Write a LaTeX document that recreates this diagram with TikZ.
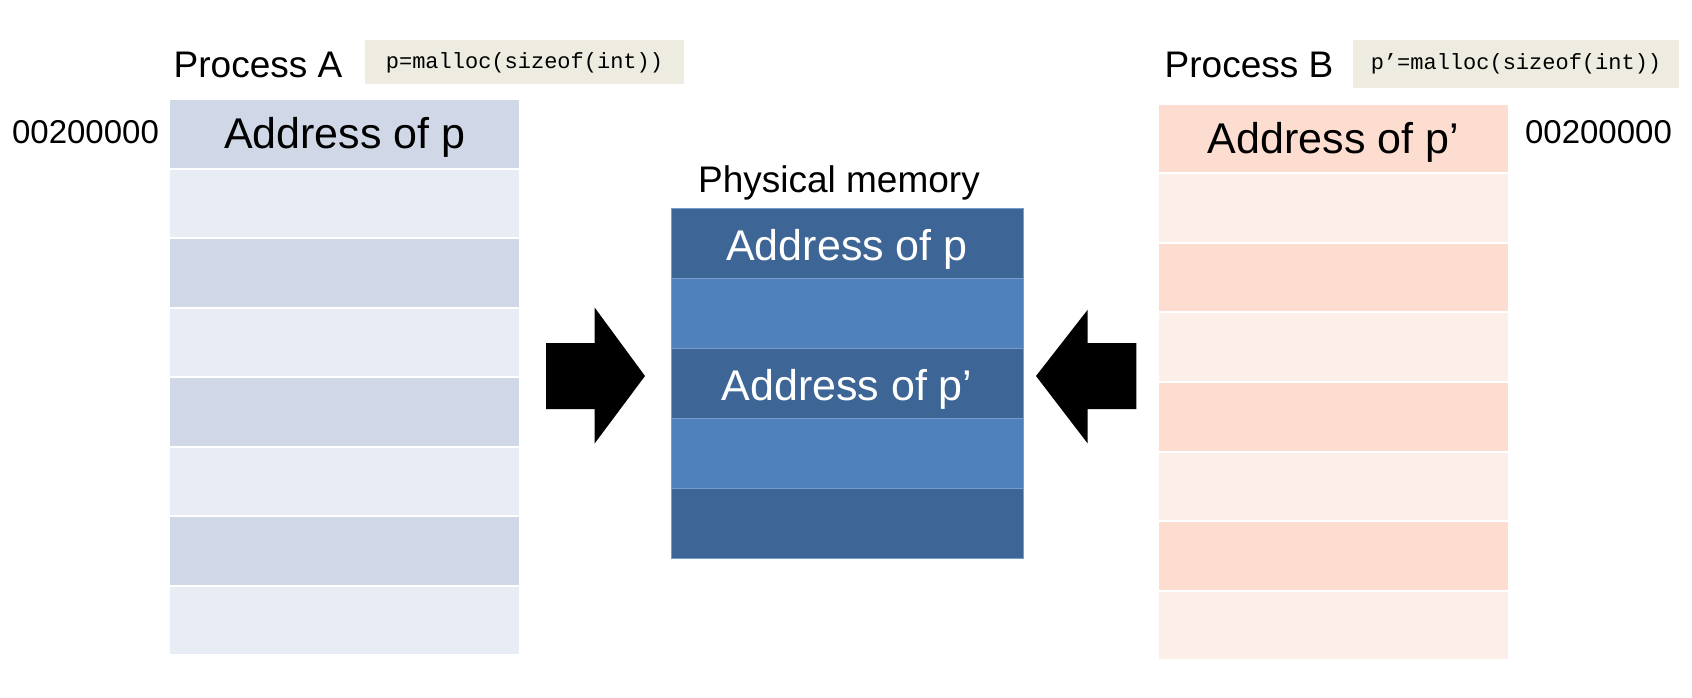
\documentclass[tikz,border=0pt]{standalone}
\usepackage{fontspec}
\setmainfont{Liberation Sans}
\newfontfamily\codefont{Liberation Mono}
\definecolor{adark}{HTML}{D0D8E7}
\definecolor{alight}{HTML}{E8ECF4}
\definecolor{bdark}{HTML}{FCDDD0}
\definecolor{blight}{HTML}{FCEEE9}
\definecolor{mdark}{HTML}{3D6595}
\definecolor{mlight}{HTML}{4F81BD}
\definecolor{mline}{HTML}{7A9CCB}
\definecolor{codebg}{HTML}{EEECE1}
\tikzset{
  rowbox/.style={rectangle, inner sep=0pt, draw=white, line width=2pt, minimum width=350.7pt, minimum height=69.5pt},
  midbox/.style={rectangle, inner sep=0pt, draw=mline, line width=0.8pt, minimum width=352pt, minimum height=70pt},
  codebox/.style={rectangle, inner sep=0pt, fill=codebg, minimum width=319pt, minimum height=44pt, font=\codefont\fontsize{22}{24}\selectfont},
  txt/.style={inner sep=0pt, anchor=base},
  big/.style={font=\fontsize{43}{48}\selectfont},
  title/.style={font=\fontsize{37}{42}\selectfont},
  addr/.style={font=\fontsize{33}{38}\selectfont},
  blockarrow/.style={fill=black},
}
\begin{document}
\begin{tikzpicture}[x=1pt,y=-1pt]
\useasboundingbox (0,0) rectangle (1692,698);
% left table
\foreach \i in {1,...,8}{
  \pgfmathsetmacro{\yy}{99.3+69.5*(\i-0.5)}
  \ifodd\i \def\cc{adark}\else\def\cc{alight}\fi
  \node[rowbox, fill=\cc] (a\i) at (344.75,\yy) {};
}
% right table
\foreach \i in {1,...,8}{
  \pgfmathsetmacro{\yy}{103.6+69.6*(\i-0.5)}
  \ifodd\i \def\cc{bdark}\else\def\cc{blight}\fi
  \node[rowbox, fill=\cc] (b\i) at (1333.3,\yy) {};
}
% middle memory
\foreach \i in {1,...,5}{
  \pgfmathsetmacro{\yy}{208+70*(\i-0.5)}
  \ifodd\i \def\cc{mdark}\else\def\cc{mlight}\fi
  \node[midbox, fill=\cc] (m\i) at (847,\yy) {};
}
% texts in rows
\node[txt, big] (ta) at (344.75,149) {Address of p};
\node[txt, big] (tb) at (1333.3,153.5) {Address of p’};
\node[txt, big, text=white] (tm1) at (847,260) {Address of p};
\node[txt, big, text=white] (tm3) at (847,400) {Address of p’};
% labels
\node[txt, title] (pa) at (258,78) {Process A};
\node[txt, title] (pb) at (1249,78) {Process B};
\node[txt, title] (pm) at (839,193) {Physical memory};
\node[txt, addr] (adA) at (85.5,143.5) {00200000};
\node[txt, addr] (adB) at (1598.5,143.5) {00200000};
% code boxes
\node[codebox] (ca) at (524.5,62.5) {p=malloc(sizeof(int))};
\node[codebox, minimum width=326pt, minimum height=48pt] (cb) at (1516,64) {p’=malloc(sizeof(int))};
% block arrows
\fill[blockarrow] (546,343) -- (594.6,343) -- (594.6,307.5) -- (645,376) -- (594.6,443.5) -- (594.6,409) -- (546,409) -- cycle;
\fill[blockarrow] (1136.3,343) -- (1087.7,343) -- (1087.7,309.7) -- (1036,376) -- (1087.7,443.5) -- (1087.7,409) -- (1136.3,409) -- cycle;
\end{tikzpicture}
\end{document}
